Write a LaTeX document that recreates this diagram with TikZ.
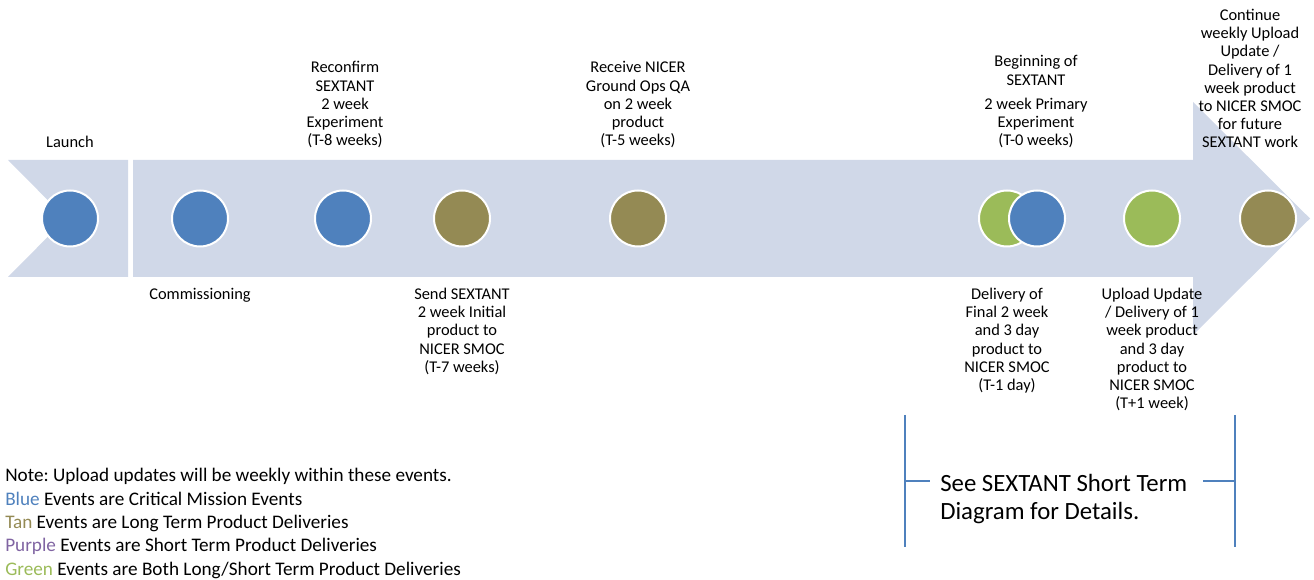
\documentclass[tikz,border=0pt]{standalone}
\usepackage{fontspec}
\setmainfont{Carlito}
\frenchspacing
\usetikzlibrary{arrows, arrows.meta}
\usetikzlibrary{calc}

\definecolor{band}{HTML}{D0D8E8}
\definecolor{evblue}{HTML}{4F81BD}
\definecolor{evtan}{HTML}{948A54}
\definecolor{evgreen}{HTML}{9BBB59}
\definecolor{evpurple}{HTML}{8064A2}

\tikzset{
  event/.style = {circle, draw=white, line width=1.5pt, inner sep=0pt, minimum size=42pt},
  evtext/.style = {align=center, inner sep=0pt, font=\fontsize{12.3}{13.6}\selectfont},
  brk/.style = {draw=evblue, line width=1.5pt}
}

\begin{document}
\begin{tikzpicture}[x=0.75pt, y=-0.75pt]
    \useasboundingbox (0,0) rectangle (1314,580);

    % timeline band
    \fill[band] (8,160) -- (128,160) -- (128,277) -- (8,277) -- (66,218.5) -- cycle;
    \fill[band] (133,160) -- (1193,160) -- (1193,102) -- (1310,218.5) -- (1193,335) -- (1193,277) -- (133,277) -- cycle;

    % events
    \node[event, fill=evblue] (1) at (70,218.5) {};
    \node[event, fill=evblue] (2) at (200,218.5) {};
    \node[event, fill=evblue] (3) at (343,218.5) {};
    \node[event, fill=evtan] (4) at (462,218.5) {};
    \node[event, fill=evtan] (5) at (638,218.5) {};
    \node[event, fill=evgreen] (6) at (1007,218.5) {};
    \node[event, fill=evblue] (7) at (1037,218.5) {};
    \node[event, fill=evgreen] (8) at (1152,218.5) {};
    \node[event, fill=evtan] (9) at (1268,218.5) {};

    % labels above
    \node[evtext, anchor=south] (t1) at (70,148) {Launch};
    \node[evtext, anchor=south] (t3) at (345,148) {Reconfirm\\SEXTANT\\2 week\\Experiment\\(T-8 weeks)};
    \node[evtext, anchor=south] (t5) at (638,148) {Receive NICER\\Ground Ops QA\\on 2 week\\product\\(T-5 weeks)};
    \node[evtext, anchor=south] (t7) at (1036,148) {Beginning of\\SEXTANT\\[4.5pt]2 week Primary\\Experiment\\(T-0 weeks)};
    \node[evtext, anchor=south] (t9) at (1250,148) {Continue\\weekly Upload\\Update /\\Delivery of 1\\week product\\to NICER SMOC\\for future\\SEXTANT work};

    % labels below
    \node[evtext, anchor=north] (b2) at (200,288) {Commissioning};
    \node[evtext, anchor=north] (b4) at (462,288) {Send SEXTANT\\2 week Initial\\product to\\NICER SMOC\\(T-7 weeks)};
    \node[evtext, anchor=north] (b6) at (1007,288) {Delivery of\\Final 2 week\\and 3 day\\product to\\NICER SMOC\\(T-1 day)};
    \node[evtext, anchor=north] (b8) at (1152,288) {Upload Update\\/ Delivery of 1\\week product\\and 3 day\\product to\\NICER SMOC\\(T+1 week)};

    % short term bracket
    \node[anchor=west, align=left, inner sep=0pt, font=\fontsize{18.6}{21}\selectfont] (see) at (940,499) {See SEXTANT Short Term\\Diagram for Details.};
    \coordinate (lt) at (905,415);
    \coordinate (lb) at (905,547);
    \coordinate (rt) at (1235,415);
    \coordinate (rb) at (1235,547);
    \draw[brk] (lt) -- (lb);
    \draw[brk] (rt) -- (rb);
    \draw[brk] ($(lt)!0.5!(lb)$) -- ++(25,0);
    \draw[brk] ($(rt)!0.5!(rb)$) -- ++(-32,0);

    % legend
    \node[anchor=north west, align=left, inner sep=0pt, font=\fontsize{14.4}{17.6}\selectfont] (note) at (5,468)
      {Note: Upload updates will be weekly within these events.\\
       \textcolor{evblue}{Blue} Events are Critical Mission Events\\
       \textcolor{evtan}{Tan} Events are Long Term Product Deliveries\\
       \textcolor{evpurple}{Purple} Events are Short Term Product Deliveries\\
       \textcolor{evgreen}{Green} Events are Both Long/Short Term Product Deliveries};
\end{tikzpicture}
\end{document}
